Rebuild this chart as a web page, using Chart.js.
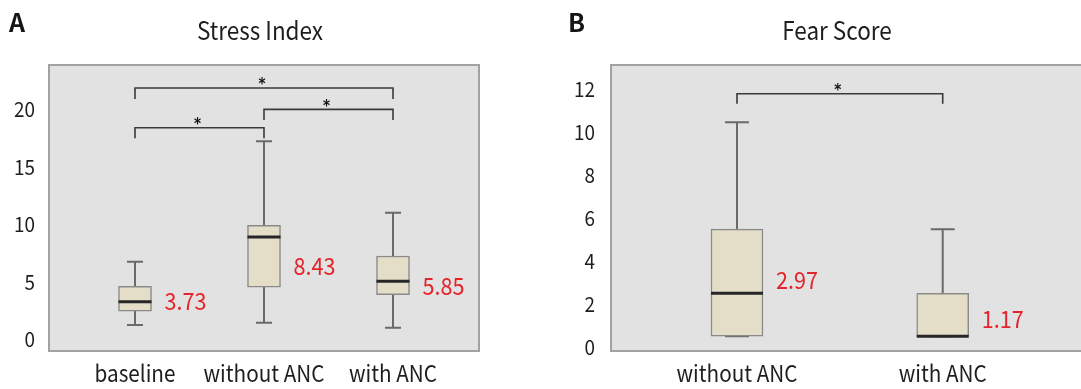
<!DOCTYPE html>
<html><head><meta charset="utf-8">
<script src="https://cdn.jsdelivr.net/npm/chart.js@4.4.0/dist/chart.umd.min.js"></script>
<style>
html,body{margin:0;padding:0;background:#fff;overflow:hidden;width:1081px;height:389px;}
#wrap{position:relative;width:1081px;height:389px;overflow:hidden;background:#fff;}
.panel{position:absolute;top:0;height:389px;}
.tag{position:absolute;font-family:"Noto Sans CJK KR","Noto Sans",sans-serif;font-weight:700;font-size:25px;line-height:1;color:#151515;}
</style></head><body>
<div id="wrap">
<div class="panel" style="left:0;width:540px"><canvas id="cA" width="540" height="389"></canvas></div>
<div class="panel" style="left:540px;width:560px"><canvas id="cB" width="560" height="389"></canvas></div>
<div class="tag" style="left:9px;top:9px">A</div>
<div class="tag" style="left:568px;top:9px">B</div>
</div>
<script>
// ---------- Panel A: Stress Index ----------
const titleA = 'Stress Index';
const categoriesA = ['baseline', 'without ANC', 'with ANC'];
const minA    = [1.22, 1.42, 0.98];
const q1A     = [2.43, 4.50, 3.85];
const medianA = [3.24, 8.87, 5.02];
const q3A     = [4.58, 9.89, 7.22];
const maxA    = [6.72, 17.19, 10.98];
const meanTextA = ['3.73', '8.43', '5.85'];
const meanAtA   = [3.30, 6.37, 4.60];
const yTicksA = [0, 5, 10, 15, 20];
const bracketFromA = [1, 2, 1];
const bracketToA   = [3, 3, 2];
const bracketYA    = [21.83, 19.97, 18.37];
const bracketLegA  = [20.87, 19.04, 17.45];

// ---------- Panel B: Fear Score ----------
const titleB = 'Fear Score';
const categoriesB = ['without ANC', 'with ANC'];
const minB    = [0.5, 0.5];
const q1B     = [0.5, 0.5];
const medianB = [2.5, 0.5];
const q3B     = [5.49, 2.5];
const maxB    = [10.47, 5.49];
const meanTextB = ['2.97', '1.17'];
const meanAtB   = [3.12, 1.33];
const yTicksB = [0, 2, 4, 6, 8, 10, 12];
const bracketFromB = [1];
const bracketToB   = [2];
const bracketYB    = [11.80];
const bracketLegB  = [11.33];

const FONT = "'Noto Sans CJK KR', 'Noto Sans', sans-serif";
const TEXT_SX = 0.9; // the reference typeface is slightly condensed

function boxPlugin(cfg) {
  return {
    id: 'boxExtras',
    beforeInit(chart) {
      const ctx = chart.ctx;
      const orig = ctx.fillText;
      ctx.fillText = function (t, x, y, mw) {
        this.save();
        this.translate(x, y);
        this.scale(TEXT_SX, 1);
        if (mw === undefined || mw === null) orig.call(this, t, 0, 0);
        else orig.call(this, t, 0, 0, mw / TEXT_SX);
        this.restore();
      };
    },
    beforeDraw(chart) {
      const {ctx, chartArea: a} = chart;
      ctx.save();
      ctx.fillStyle = '#e2e2e2';
      ctx.fillRect(a.left, a.top, a.right - a.left, a.bottom - a.top);
      ctx.restore();
    },
    beforeDatasetsDraw(chart) {
      const {ctx} = chart;
      const xs = chart.scales.x, ys = chart.scales.y;
      ctx.save();
      ctx.strokeStyle = '#6a6a6a';
      ctx.lineWidth = 2;
      cfg.min.forEach((mn, i) => {
        const x = xs.getPixelForValue(i + 1);
        const yMin = ys.getPixelForValue(mn), yMax = ys.getPixelForValue(cfg.max[i]);
        ctx.beginPath();
        ctx.moveTo(x, yMin); ctx.lineTo(x, yMax);
        ctx.moveTo(x - cfg.cap, yMin); ctx.lineTo(x + cfg.cap, yMin);
        ctx.moveTo(x - cfg.cap, yMax); ctx.lineTo(x + cfg.cap, yMax);
        ctx.stroke();
      });
      ctx.restore();
    },
    afterDatasetsDraw(chart) {
      const {ctx, chartArea: a} = chart;
      const xs = chart.scales.x, ys = chart.scales.y;
      ctx.save();
      // medians
      ctx.strokeStyle = '#262626';
      ctx.lineWidth = 3;
      cfg.median.forEach((m, i) => {
        const x = xs.getPixelForValue(i + 1);
        const y = ys.getPixelForValue(m);
        ctx.beginPath();
        ctx.moveTo(x - cfg.half, y); ctx.lineTo(x + cfg.half, y);
        ctx.stroke();
      });
      // mean labels
      ctx.fillStyle = '#e3242b';
      ctx.font = '24px ' + FONT;
      ctx.textBaseline = 'middle';
      ctx.textAlign = 'left';
      cfg.meanText.forEach((t, i) => {
        const x = xs.getPixelForValue(i + 1) + cfg.half + 13;
        ctx.fillText(t, x, ys.getPixelForValue(cfg.meanAt[i]));
      });
      // brackets
      ctx.strokeStyle = '#3a3a3a';
      ctx.lineWidth = 1.6;
      ctx.fillStyle = '#111';
      ctx.font = 'bold 15px "DejaVu Sans"';
      ctx.textAlign = 'center';
      ctx.textBaseline = 'alphabetic';
      cfg.bFrom.forEach((f, i) => {
        const x1 = xs.getPixelForValue(f), x2 = xs.getPixelForValue(cfg.bTo[i]);
        const y = ys.getPixelForValue(cfg.bY[i]), yl = ys.getPixelForValue(cfg.bLeg[i]);
        ctx.beginPath();
        ctx.moveTo(x1, yl); ctx.lineTo(x1, y); ctx.lineTo(x2, y); ctx.lineTo(x2, yl);
        ctx.stroke();
        ctx.fillText('*', (x1 + x2) / 2 - 2, y + 1.5);
      });
      // plot frame
      ctx.strokeStyle = '#a2a2a2';
      ctx.lineWidth = 2;
      ctx.strokeRect(a.left, a.top, a.right - a.left, a.bottom - a.top);
      // panel title
      ctx.fillStyle = '#1e1e1e';
      ctx.font = '25px ' + FONT;
      ctx.textAlign = 'center';
      ctx.textBaseline = 'middle';
      ctx.fillText(cfg.title, cfg.titleX, 30);
      ctx.restore();
    }
  };
}

function makeChart(id, o) {
  return new Chart(document.getElementById(id), {
    type: 'bar',
    data: {
      datasets: [{
        data: o.categories.map((c, i) => ({x: i + 1, y: [o.q1[i], o.q3[i]]})),
        backgroundColor: '#e4ddc7',
        borderColor: '#8a8a8a',
        borderWidth: 1.5,
        borderSkipped: false,
        barThickness: o.half * 2
      }]
    },
    options: {
      responsive: false,
      animation: false,
      devicePixelRatio: 1,
      layout: {padding: {left: 0, right: o.padRight, top: 65, bottom: 0}},
      plugins: {
        legend: {display: false},
        tooltip: {enabled: false},
        title: {display: false}
      },
      scales: {
        x: {
          type: 'linear', min: o.xMin, max: o.xMax, offset: false,
          grid: {display: false, drawTicks: false, offset: false},
          border: {display: false},
          afterBuildTicks: s => { s.ticks = o.categories.map((c, i) => ({value: i + 1})); },
          afterFit: s => { s.height = 38; },
          ticks: {
            autoSkip: false, maxRotation: 0, padding: 8, color: '#1e1e1e',
            font: {family: FONT, size: 23},
            callback: v => o.categories[Math.round(v) - 1]
          }
        },
        y: {
          min: o.yMin, max: o.yMax,
          grid: {display: false, drawTicks: false},
          border: {display: false},
          afterBuildTicks: s => { s.ticks = o.yTicks.map(v => ({value: v})); },
          afterFit: s => { s.width = o.yWidth; },
          ticks: {padding: o.yPad, color: '#1e1e1e', font: {family: FONT, size: 21}}
        }
      }
    },
    plugins: [boxPlugin(o)]
  });
}

makeChart('cA', {
  title: titleA, titleX: 260, categories: categoriesA, min: minA, q1: q1A, median: medianA, q3: q3A, max: maxA,
  meanText: meanTextA, meanAt: meanAtA, yTicks: yTicksA,
  bFrom: bracketFromA, bTo: bracketToA, bY: bracketYA, bLeg: bracketLegA,
  xMin: 1 / 3, xMax: 11 / 3, yMin: -1.04, yMax: 23.83,
  half: 16.5, cap: 8, padRight: 61, yWidth: 49, yPad: 14
});
makeChart('cB', {
  title: titleB, titleX: 297, categories: categoriesB, min: minB, q1: q1B, median: medianB, q3: q3B, max: maxB,
  meanText: meanTextB, meanAt: meanAtB, yTicks: yTicksB,
  bFrom: bracketFromB, bTo: bracketToB, bY: bracketYB, bLeg: bracketLegB,
  xMin: 0.3875, xMax: 2.716, yMin: -0.19, yMax: 13.14,
  half: 26, cap: 12, padRight: 10, yWidth: 71, yPad: 16
});
</script>
</body></html>
